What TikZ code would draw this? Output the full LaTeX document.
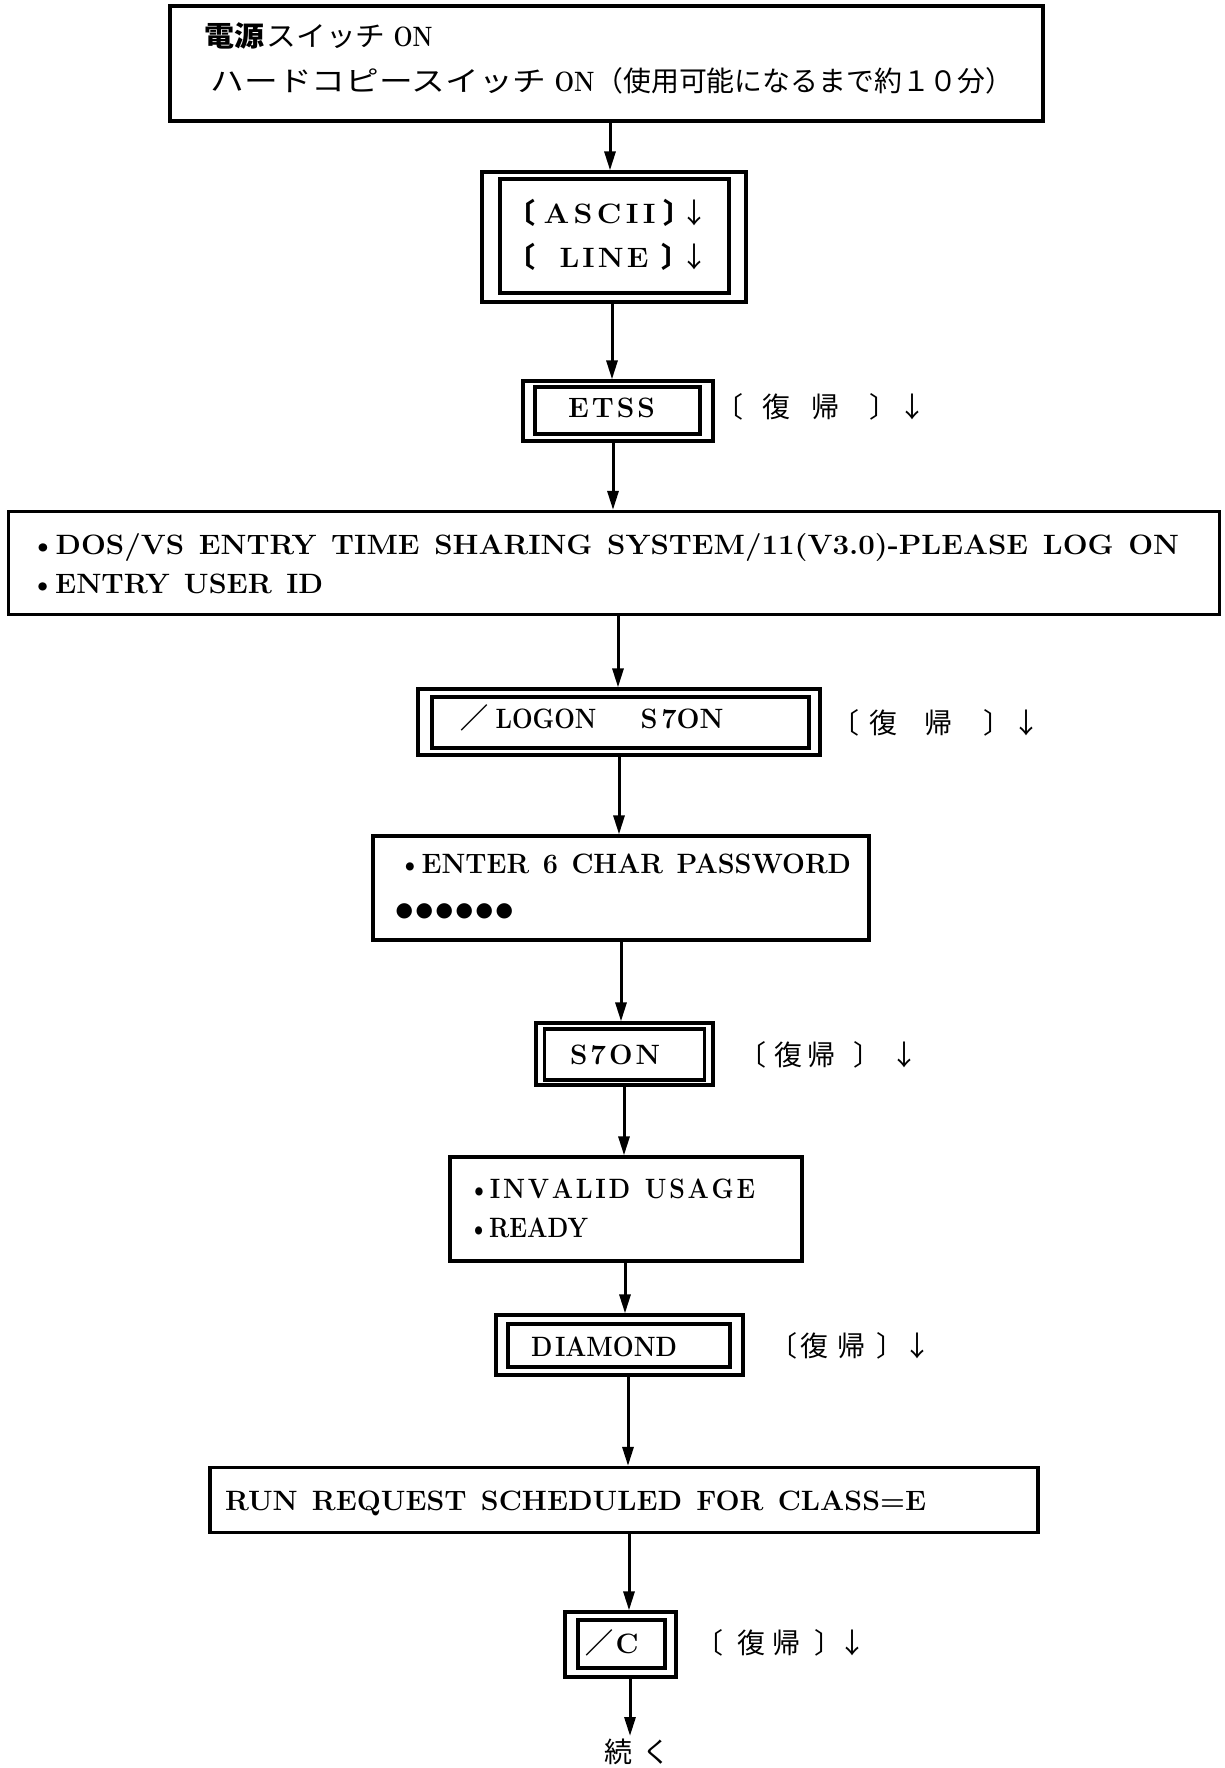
\documentclass[tikz,border=0pt]{standalone}
\usepackage{fontspec}
\usepackage{graphicx}
\usetikzlibrary{arrows.meta}
\newfontfamily\jp{Noto Sans CJK JP}
\newfontfamily\dv{DejaVu Sans}
% stretch a piece of text to a given width, keeping its height
\newcommand\fitw[2]{\resizebox{#1}{\height}{#2}}
% put a piece at a horizontal offset from the node origin
\newcommand\at[2]{\rlap{\hspace*{#1}#2}}
% spread the letters of a word apart
\ExplSyntaxOn
\NewDocumentCommand\spread{ m m }
  {
    \bool_set_false:N \l_tmpa_bool
    \tl_map_inline:nn {#2}
      { \bool_if:NT \l_tmpa_bool { \kern #1 } \bool_set_true:N \l_tmpa_bool ##1 }
  }
\ExplSyntaxOff
% the return-key label, glyph origins given from the label origin
\newcommand\ret[4]{{\jp\at{0pt}{〔}\at{#1}{復}\at{#2}{帰}\at{#3}{〕}\at{#4}{↓}}}
\newcommand\pwdot{{\dv ●}}

\tikzset{
  box/.style={draw, line width=3.2pt, inner sep=0pt, rectangle},
  arr/.style={line width=3pt, -{Triangle[length=19pt,width=11pt]}},
  txt/.style={inner sep=0pt, outer sep=0pt, anchor=base west,
              font=\fontsize{28}{30}\selectfont\bfseries},
  jtxt/.style={inner sep=0pt, outer sep=0pt, anchor=base west,
              font=\fontsize{28}{30}\selectfont\jp},
}

\begin{document}
\begin{tikzpicture}[x=1pt,y=-1pt]
\fill[white] (0,0) rectangle (1224,1768);
\useasboundingbox (0,0) rectangle (1224,1768);

% ---- boxes ----
\node[box, minimum width=873, minimum height=115] (b1) at (606.5,63.5) {};
\node[box, minimum width=264, minimum height=130] (b2o) at (614,237) {};
\node[box, minimum width=229, minimum height=114] (b2i) at (614.5,236) {};
\node[box, minimum width=190, minimum height=60] (b3o) at (618,411) {};
\node[box, minimum width=165, minimum height=47] (b3i) at (617.5,410.5) {};
\node[box, minimum width=1211, minimum height=103] (b4) at (614,563) {};
\node[box, minimum width=402, minimum height=66] (b5o) at (619,722) {};
\node[box, minimum width=377, minimum height=51] (b5i) at (620.5,722.5) {};
\node[box, minimum width=496, minimum height=104] (b6) at (621,888) {};
\node[box, minimum width=177, minimum height=62] (b7o) at (624.5,1054) {};
\node[box, minimum width=160, minimum height=51] (b7i) at (624.5,1054.5) {};
\node[box, minimum width=352, minimum height=104] (b8) at (626,1209) {};
\node[box, minimum width=247, minimum height=60] (b9o) at (619.5,1345) {};
\node[box, minimum width=222, minimum height=43] (b9i) at (619,1345.5) {};
\node[box, minimum width=828, minimum height=65] (b10) at (624,1500) {};
\node[box, minimum width=111, minimum height=65] (b11o) at (620.5,1644.5) {};
\node[box, minimum width=87, minimum height=48] (b11i) at (621.5,1644) {};

% ---- texts ----
\node[txt] (t1a) at (204,47)
  {\at{0pt}{\jp\fitw{60pt}{電源}}\at{62pt}{\jp\mdseries\fitw{119pt}{スイッチ}}\at{189pt}{\fitw{39pt}{ON}}};
\node[txt] (t1b) at (210,92)
  {\at{0pt}{\jp\mdseries\fitw{336pt}{ハードコピースイッチ}}\at{344pt}{\fitw{40pt}{ON}}%
   \at{385pt}{\jp\mdseries\fitw{418pt}{（使用可能になるまで約１０分）}}};
\node[txt] (t2a) at (507,224)
  {\at{0pt}{\jp 〔}\at{36pt}{\fitw{112pt}{\spread{4pt}{ASCII}}}\at{155.8pt}{\jp 〕}\at{173pt}{\jp\mdseries ↓}};
\node[txt] (t2b) at (507,268)
  {\at{0pt}{\jp 〔}\at{52pt}{\fitw{89pt}{\spread{3pt}{LINE}}}\at{153.8pt}{\jp 〕}\at{173pt}{\jp\mdseries ↓}};
\node[txt] (t3) at (568,417) {\fitw{87pt}{\spread{3pt}{ETSS}}};
\node[jtxt] (l3) at (714.6,417.5) {\ret{47.3pt}{96.3pt}{154.2pt}{183.4pt}};
\node[txt] (t4a) at (30,554)
  {\fitw{1149pt}{\spaceskip=14pt\textbullet DOS/VS ENTRY TIME SHARING SYSTEM/11(V3.0)-PLEASE LOG ON}};
\node[txt] (t4b) at (30,593) {\fitw{293pt}{\spaceskip=14pt\textbullet ENTRY USER ID}};
\node[txt] (t5) at (460,728)
  {\at{0pt}{\jp ／}\at{35pt}{\fitw{101pt}{LOGON}}\at{180pt}{\fitw{83pt}{S\kern4pt 7ON}}};
\node[jtxt] (l5) at (830.6,733.5) {\ret{38.3pt}{93.3pt}{152.2pt}{181.4pt}};
\node[txt] (t6a) at (398,873) {\fitw{453pt}{\spaceskip=14pt\textbullet ENTER 6 CHAR PASSWORD}};
\node[txt, font=\fontsize{20}{22}\selectfont] (t6b) at (395,916.5)
  {\at{0pt}{\pwdot}\at{20pt}{\pwdot}\at{40pt}{\pwdot}\at{60pt}{\pwdot}\at{80pt}{\pwdot}\at{100pt}{\pwdot}};
\node[txt] (t7) at (570,1064) {\fitw{90pt}{\spread{3pt}{S7ON}}};
\node[jtxt] (l7) at (737.6,1065.6) {\ret{36.3pt}{69.3pt}{115.2pt}{152.4pt}};
\node[txt] (t8a) at (468,1198) {\fitw{287pt}{\textbullet\spread{3pt}{INVALID~USAGE}}};
\node[txt] (t8b) at (468,1237) {\fitw{120pt}{\textbullet READY}};
\node[txt] (t9) at (531,1356) {\fitw{146pt}{D\kern3pt IAMOND}};
\node[jtxt] (l9) at (768.6,1356.6) {\ret{31.3pt}{68.3pt}{107.2pt}{134.4pt}};
\node[txt] (t10) at (225,1510) {\fitw{701pt}{\spaceskip=14pt RUN REQUEST SCHEDULED FOR CLASS=E}};
\node[txt] (t11) at (585,1653) {\at{0pt}{\jp ／}\at{30pt}{\fitw{23pt}{C}}};
\node[jtxt] (l11) at (694.6,1653.6) {\ret{42.3pt}{77.3pt}{119.2pt}{143.4pt}};
\node[jtxt] (t12) at (604,1762) {\at{0pt}{続}\at{38pt}{く}};

% ---- connectors ----
\coordinate (a1) at (610,0);
\coordinate (a2) at (612,0);
\coordinate (a3) at (613,0);
\coordinate (a4) at (618,0);
\coordinate (a5) at (619,0);
\coordinate (a6) at (621,0);
\coordinate (a7) at (624,0);
\coordinate (a8) at (625,0);
\coordinate (a9) at (628,0);
\coordinate (a10) at (629,0);
\coordinate (tail) at (630,1736);
\draw[arr] (b1.south -| a1) -- (b2o.north -| a1);
\draw[arr] (b2o.south -| a2) -- (b3o.north -| a2);
\draw[arr] (b3o.south -| a3) -- (b4.north -| a3);
\draw[arr] (b4.south -| a4) -- (b5o.north -| a4);
\draw[arr] (b5o.south -| a5) -- (b6.north -| a5);
\draw[arr] (b6.south -| a6) -- (b7o.north -| a6);
\draw[arr] (b7o.south -| a7) -- (b8.north -| a7);
\draw[arr] (b8.south -| a8) -- (b9o.north -| a8);
\draw[arr] (b9o.south -| a9) -- (b10.north -| a9);
\draw[arr] (b10.south -| a10) -- (b11o.north -| a10);
\draw[arr] (b11o.south -| tail) -- (tail);
\end{tikzpicture}
\end{document}
